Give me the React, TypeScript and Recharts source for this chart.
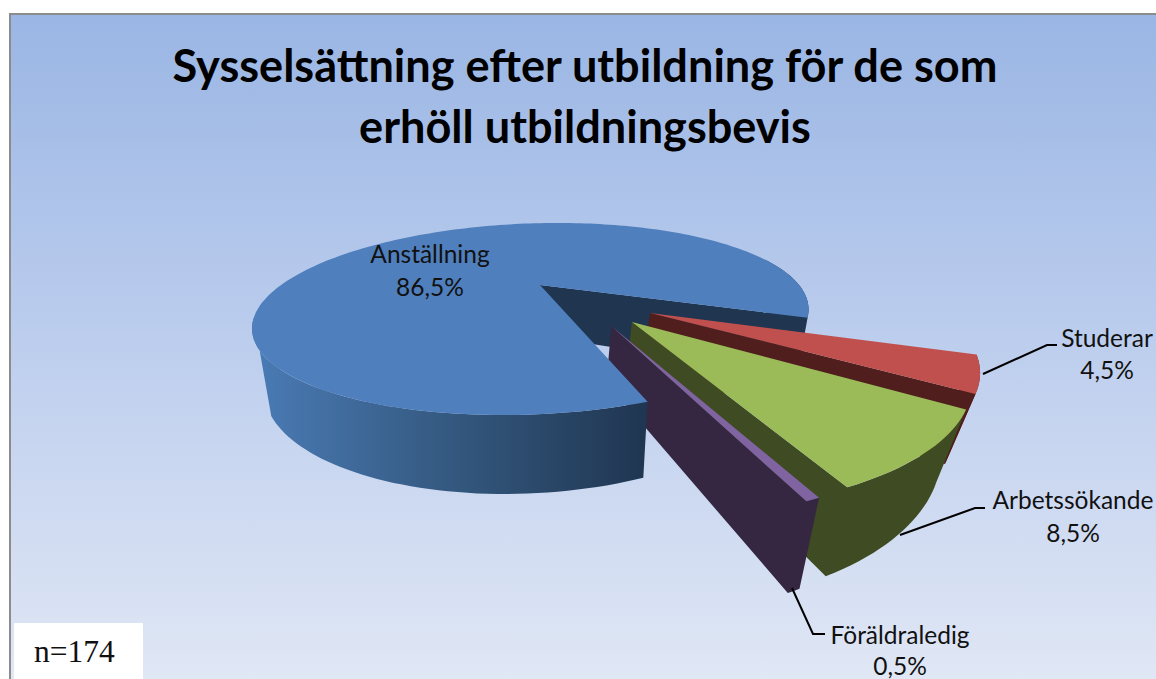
import React from "react";
import { PieChart, Pie } from "recharts";

// Drawing order puts the exploded slices first, the main slice covers their inner ends
const categories = ["Studerar", "Arbetssökande", "Föräldraledig", "Anställning"];
const shares = [4.5, 8.5, 0.5, 86.5];
const titleLines = ["Sysselsättning efter utbildning för de som", "erhöll utbildningsbevis"];
const sampleSize = "n=174";

const chartData = categories.map((name, i) => ({ name, value: shares[i] }));

const WIDTH = 1156;
const HEIGHT = 679;

// perspective of the pie disc
const PIE_X = 540;
const PIE_Y = 285;
const RADIUS_Y = 84;
const TILT = 0.354;

type SliceStyle = {
  top: string;
  wall: string;
  side: string;
  shift: [number, number];
  radiusX: number;
  skew: number;
  depth: number;
  bottomScale: number;
};

const exploded = { radiusX: 261, skew: -18, depth: 48, bottomScale: 0.93 };

const sliceStyles: Record<string, SliceStyle> = {
  Studerar: { top: "#c0504d", wall: "#6b2320", side: "#4f1e1d", shift: [0.398, 0.298], ...exploded },
  Arbetssökande: { top: "#9bbb59", wall: "#3f4b22", side: "#3f4b22", shift: [0.331, 0.381], ...exploded },
  Föräldraledig: { top: "#8064a2", wall: "#352741", side: "#352741", shift: [0.262, 0.416], ...exploded },
  Anställning: {
    top: "#4f7fbc",
    wall: "url(#blueWall)",
    side: "#1f3550",
    shift: [0, 0],
    radiusX: 259,
    skew: -24,
    depth: 51,
    bottomScale: 0.96,
  },
};

const labelPlaces: Record<string, { x: number; nameY: number; valueY: number; line?: string }> = {
  Anställning: { x: 430, nameY: 263, valueY: 296 },
  Studerar: { x: 1107, nameY: 347, valueY: 379, line: "983,374 1047,345 1057,345" },
  Arbetssökande: { x: 1073, nameY: 509, valueY: 542, line: "900,535 975,508 985,508" },
  Föräldraledig: { x: 900, nameY: 644, valueY: 675, line: "792,588 813,634 825,634" },
};

function project(u: number, v: number, s: SliceStyle, bottom: boolean) {
  const w = 1 - TILT * v;
  let x = (s.radiusX * u + s.skew * v) / w;
  let y = (RADIUS_Y * v) / w;
  if (bottom) {
    x *= s.bottomScale;
    y += s.depth / w;
  }
  return `${(PIE_X + x).toFixed(1)},${(PIE_Y + y).toFixed(1)}`;
}

function rim(a: number, b: number, s: SliceStyle, bottom: boolean) {
  const pts: string[] = [];
  const steps = Math.max(2, Math.ceil(Math.abs(b - a) / 1.5));
  for (let i = 0; i <= steps; i++) {
    const t = ((a + ((b - a) * i) / steps) * Math.PI) / 180;
    pts.push(project(s.shift[0] + Math.cos(t), s.shift[1] + Math.sin(t), s, bottom));
  }
  return pts;
}

const toPath = (pts: string[]) => `M${pts.join("L")}Z`;

function Slice(props: any) {
  const { layer, startAngle, endAngle } = props;
  const name = props.payload?.name ?? props.name;
  const s = sliceStyles[name];
  const a = -startAngle;
  const b = -endAngle;
  const isMain = name === "Anställning";

  // top rim and bottom rim may end at different angles, the silhouette at the left is a straight edge
  const outerWall = (from: number, to: number, bottomTo = to) => [
    ...rim(from, to, s, false),
    ...rim(bottomTo, from, s, true),
  ];
  const edgeWall = (angle: number) => [
    project(s.shift[0], s.shift[1], s, false),
    rim(angle, angle, s, false)[0],
    rim(angle, angle, s, true)[0],
    project(s.shift[0], s.shift[1], s, true),
  ];
  const topFace = [project(s.shift[0], s.shift[1], s, false), ...rim(a, b, s, false)];

  if (layer === "back") {
    if (!isMain) return <g />;
    return <path d={toPath(outerWall(b - 40, b)) + toPath(edgeWall(b))} fill={s.side} />;
  }
  if (isMain) {
    return (
      <g>
        <path d={toPath(outerWall(a, 160, 142))} fill={s.wall} />
        <path d={toPath(topFace)} fill={s.top} />
      </g>
    );
  }
  return (
    <g>
      {s.wall === s.side ? (
        <path d={toPath(outerWall(a, b)) + toPath(edgeWall(b))} fill={s.wall} />
      ) : (
        <>
          <path d={toPath(outerWall(a, b))} fill={s.wall} />
          <path d={toPath(edgeWall(b))} fill={s.side} />
        </>
      )}
      <path d={toPath(topFace)} fill={s.top} />
    </g>
  );
}

function SliceLabel(props: any) {
  const place = labelPlaces[props.name];
  const text = `${props.value.toFixed(1).replace(".", ",")}%`;
  return (
    <g>
      {place.line && <polyline points={place.line} fill="none" stroke="#000" strokeWidth={2} />}
      <text x={place.x} y={place.nameY} textAnchor="middle" fontFamily="Lato" fontSize={24.5} fill="#111">
        {props.name}
      </text>
      <text x={place.x} y={place.valueY} textAnchor="middle" fontFamily="Lato" fontSize={24.5} fill="#111">
        {text}
      </text>
    </g>
  );
}

export default function App() {
  return (
    <div
      style={{
        position: "absolute",
        left: 0,
        top: 0,
        width: WIDTH,
        height: HEIGHT,
        overflow: "hidden",
        background: "#fff",
      }}
    >
      <div
        style={{
          position: "absolute",
          left: 9,
          top: 13,
          right: 0,
          bottom: 0,
          borderLeft: "2px solid #8c8c8c",
          borderTop: "2px solid #8c8c8c",
          background: "linear-gradient(180deg, #9ab6e4 0%, #b6c9ec 40%, #e0e7f5 100%)",
        }}
      />
      {titleLines.map((line, i) => (
        <div
          key={line}
          style={{
            position: "absolute",
            left: 0,
            width: 1170,
            top: 37 + i * 61,
            textAlign: "center",
            fontFamily: "Lato",
            fontWeight: 700,
            fontSize: 45.1,
            lineHeight: "56px",
            color: "#000",
            whiteSpace: "nowrap",
          }}
        >
          {line}
        </div>
      ))}
      <div style={{ position: "absolute", left: 0, top: 0 }}>
        <PieChart width={WIDTH} height={HEIGHT} margin={{ top: 0, right: 0, bottom: 0, left: 0 }}>
          <defs>
            <linearGradient id="blueWall" gradientUnits="userSpaceOnUse" x1={255} y1={0} x2={650} y2={0}>
              <stop offset="0%" stopColor="#4a7bb5" />
              <stop offset="50%" stopColor="#34587f" />
              <stop offset="100%" stopColor="#1f3550" />
            </linearGradient>
          </defs>
          <Pie
            data={chartData}
            dataKey="value"
            nameKey="name"
            cx={PIE_X}
            cy={PIE_Y}
            outerRadius={261}
            startAngle={-20}
            endAngle={-380}
            stroke="none"
            isAnimationActive={false}
            shape={(p: any) => <Slice {...p} layer="back" />}
          />
          <Pie
            data={chartData}
            dataKey="value"
            nameKey="name"
            cx={PIE_X}
            cy={PIE_Y}
            outerRadius={261}
            startAngle={-20}
            endAngle={-380}
            stroke="none"
            isAnimationActive={false}
            shape={(p: any) => <Slice {...p} layer="front" />}
            label={(p: any) => <SliceLabel {...p} />}
            labelLine={false}
          />
        </PieChart>
      </div>
      <div
        style={{
          position: "absolute",
          left: 14,
          top: 623,
          width: 129,
          height: 56,
          background: "#fff",
          fontFamily: "Liberation Serif",
          fontSize: 31.5,
          lineHeight: "58px",
          paddingLeft: 20,
          boxSizing: "border-box",
          color: "#111",
        }}
      >
        {sampleSize}
      </div>
    </div>
  );
}
